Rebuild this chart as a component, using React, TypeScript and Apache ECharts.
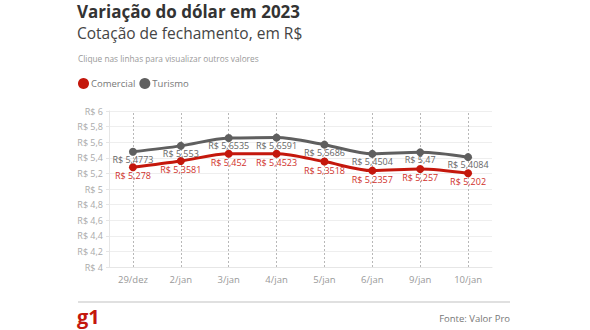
import React, { useEffect, useRef } from "react";
import * as echarts from "echarts";

const categories = ["29/dez", "2/jan", "3/jan", "4/jan", "5/jan", "6/jan", "9/jan", "10/jan"];
const comercial = [5.278, 5.3581, 5.452, 5.4523, 5.3518, 5.2357, 5.257, 5.202];
const turismo = [5.4773, 5.553, 5.6535, 5.6591, 5.5686, 5.4504, 5.47, 5.4084];
const yTicks = { min: 4, max: 6, interval: 0.2 };

const RED = "#c4170c";
const GRAY = "#5f5f5f";
const FONT = "'Open Sans', 'Noto Sans', sans-serif";

const fmt = (v: number) => "R$ " + String(Math.round(v * 10000) / 10000).replace(".", ",");

export default function App() {
  const ref = useRef<HTMLDivElement>(null);
  useEffect(() => {
    if (!ref.current) return;
    const chart = echarts.init(ref.current, undefined, { renderer: "svg" });
    chart.setOption({
      animation: false,
      backgroundColor: "#fff",
      textStyle: { fontFamily: FONT },
      title: [
        {
          text: "Variação do dólar em 2023",
          left: 77,
          top: 1,
          padding: 0,
          textStyle: { fontFamily: FONT, fontSize: 17, lineHeight: 21, fontWeight: "bold", color: "#333" },
        },
        {
          text: "Cotação de fechamento, em R$",
          left: 77,
          top: 24,
          padding: 0,
          textStyle: { fontFamily: FONT, fontSize: 15.5, lineHeight: 18, fontWeight: "normal", color: "#444" },
        },
        {
          text: "Clique nas linhas para visualizar outros valores",
          left: 78,
          top: 53,
          padding: 0,
          textStyle: { fontFamily: FONT, fontSize: 8.3, lineHeight: 11, fontWeight: "normal", color: "#999" },
        },
      ],
      legend: {
        left: 73,
        top: 73,
        icon: "circle",
        itemWidth: 11,
        itemHeight: 11,
        itemGap: 4,
        textStyle: { fontFamily: FONT, fontSize: 9.5, color: "#777", padding: [0, 0, 0, -3] },
        data: ["Comercial", "Turismo"],
      },
      grid: { left: 109, right: 98, top: 111, bottom: 63 },
      xAxis: {
        type: "category",
        data: categories,
        boundaryGap: true,
        axisLine: { show: true, lineStyle: { color: "#e6e6e6" } },
        axisTick: { show: false },
        splitLine: { show: false },
        axisLabel: { color: "#999", fontSize: 9.5, fontFamily: FONT, margin: 7 },
      },
      yAxis: {
        type: "value",
        min: yTicks.min,
        max: yTicks.max,
        interval: yTicks.interval,
        axisLine: { show: true, lineStyle: { color: "#e6e6e6" } },
        axisTick: { show: true, length: 3, lineStyle: { color: "#e6e6e6" } },
        splitLine: { show: true, lineStyle: { color: "#eeeeee" } },
        axisLabel: {
          color: "#aaa",
          fontSize: 9,
          fontFamily: FONT,
          margin: 6,
          formatter: (v: number) => fmt(v),
        },
      },
      series: [
        {
          name: "Comercial",
          type: "line",
          smooth: 0.3,
          data: comercial,
          color: RED,
          symbol: "circle",
          symbolSize: 8,
          z: 3,
          lineStyle: { width: 3, color: RED },
          itemStyle: { color: RED },
          label: {
            show: true,
            position: "bottom",
            distance: 0,
            color: "#d0302a",
            fontSize: 9,
            fontFamily: FONT,
            formatter: (p: any) => fmt(p.value),
          },
          markLine: {
            silent: true,
            symbol: "none",
            label: { show: false },
            lineStyle: { color: "#b8b8b8", type: [2, 2], width: 1 },
            data: categories.map((c) => ({ xAxis: c })),
            z: 1,
          },
        },
        {
          name: "Turismo",
          type: "line",
          smooth: 0.3,
          data: turismo,
          color: GRAY,
          symbol: "circle",
          symbolSize: 8,
          z: 4,
          lineStyle: { width: 3, color: GRAY },
          itemStyle: { color: GRAY },
          label: {
            show: true,
            position: "bottom",
            distance: -1,
            color: "#666",
            fontSize: 9,
            fontFamily: FONT,
            formatter: (p: any) => fmt(p.value),
          },
        },
      ],
      graphic: [
        {
          type: "line",
          shape: { x1: 78, y1: 302, x2: 510, y2: 302 },
          style: { stroke: "#d6d6d6", lineWidth: 1.5 },
        },
        {
          type: "text",
          left: 77,
          top: 306,
          style: { text: "g1", fill: RED, font: `bold 20px ${FONT}` },
        },
        {
          type: "text",
          right: 80,
          top: 313,
          style: { text: "Fonte: Valor Pro", fill: "#777", font: `9.5px ${FONT}` },
        },
      ],
    });
    return () => chart.dispose();
  }, []);
  return (
    <div
      ref={ref}
      style={{ position: "fixed", left: 0, top: 0, width: 590, height: 330 }}
    />
  );
}
